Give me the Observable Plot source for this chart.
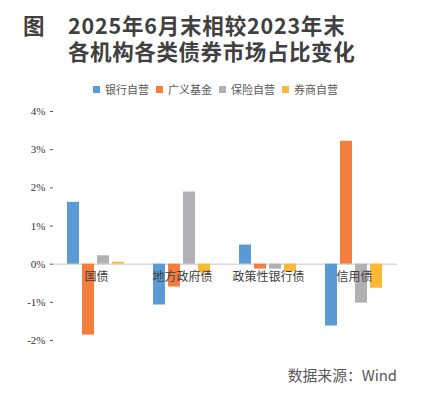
<!DOCTYPE html>
<html><head><meta charset="utf-8">
<script src="https://cdn.jsdelivr.net/npm/d3@7"></script>
<script src="https://cdn.jsdelivr.net/npm/@observablehq/plot@0.6"></script>
<style>
body{margin:0;background:#fff;}
#wrap{position:relative;width:423px;height:399px;background:#fff;font-family:"Noto Sans CJK SC","Noto Sans",sans-serif;overflow:hidden;}
#fig{position:absolute;left:23px;top:12px;font-size:21.5px;font-weight:bold;color:#404040;line-height:25px;}
.tl{position:absolute;left:68px;font-size:21.5px;font-weight:bold;color:#404040;line-height:25px;letter-spacing:0.8px;white-space:nowrap;}
#t1{top:12px;}
#t2{top:38px;letter-spacing:0.6px;}
#legend{position:absolute;left:93px;top:80px;display:flex;align-items:center;font-size:11px;color:#595959;line-height:18px;white-space:nowrap;}
#legend .item{display:flex;align-items:center;margin-right:7px;}
#legend .sw{width:7px;height:7px;margin-right:5px;}
#chart{position:absolute;left:0;top:100px;}
#source{position:absolute;right:26px;top:365px;font-size:14.8px;color:#595959;line-height:20px;white-space:nowrap;}
</style></head>
<body>
<div id="wrap">
  <div id="fig">图</div>
  <div id="t1" class="tl">2025年6月末相较2023年末</div>
  <div id="t2" class="tl">各机构各类债券市场占比变化</div>
  <div id="legend"></div>
  <div id="chart"></div>
  <div id="source">数据来源：Wind</div>
</div>
<script>
const categories = ["国债", "地方政府债", "政策性银行债", "信用债"];
const series = ["银行自营", "广义基金", "保险自营", "券商自营"];
const colors = ["#5B9BD5", "#F37E3D", "#B1B1B4", "#FDB933"];
const bankValues = [1.62, -1.07, 0.50, -1.62];
const fundValues = [-1.86, -0.60, -0.13, 3.22];
const insuranceValues = [0.22, 1.89, -0.13, -1.02];
const brokerValues = [0.05, -0.23, -0.20, -0.63];
const yTicks = [-2, -1, 0, 1, 2, 3, 4];

const seriesValues = [bankValues, fundValues, insuranceValues, brokerValues];
const data = categories.flatMap((c, i) => series.map((s, j) => ({category: c, series: s, value: seriesValues[j][i]})));

const legend = document.getElementById("legend");
series.forEach((s, j) => {
  const item = document.createElement("div");
  item.className = "item";
  item.innerHTML = `<span class="sw" style="background:${colors[j]}"></span><span>${s}</span>`;
  legend.appendChild(item);
});

const chart = Plot.plot({
  width: 423,
  height: 250,
  marginLeft: 52,
  marginRight: 26,
  marginTop: 11,
  marginBottom: 10,
  style: {fontFamily: "'Noto Sans CJK SC', sans-serif", background: "transparent"},
  fx: {domain: categories, padding: 0, axis: null},
  x: {domain: series, paddingInner: 0.19, paddingOuter: 0.86, axis: null},
  y: {domain: [-2, 4], axis: null},
  color: {domain: series, range: colors},
  marks: [
    Plot.ruleY([0], {stroke: "#d9d9d9", strokeWidth: 1.5}),
    Plot.barY(data, {fx: "category", x: "series", y: "value", fill: "series"}),
    Plot.text(categories, {fx: d => d, y: () => 0, text: d => d, dy: 13, fontSize: 12, fill: "#404040"}),
    Plot.axisY({
      ticks: yTicks,
      tickSize: 3,
      tickPadding: 5,
      line: true,
      label: null,
      stroke: "#595959",
      fill: "#333",
      fontFamily: "'Liberation Serif', serif",
      fontSize: 11,
      tickFormat: d => (d < 0 ? "-" : "") + Math.abs(d) + "%"
    })
  ]
});
document.getElementById("chart").appendChild(chart);
</script>
</body></html>
